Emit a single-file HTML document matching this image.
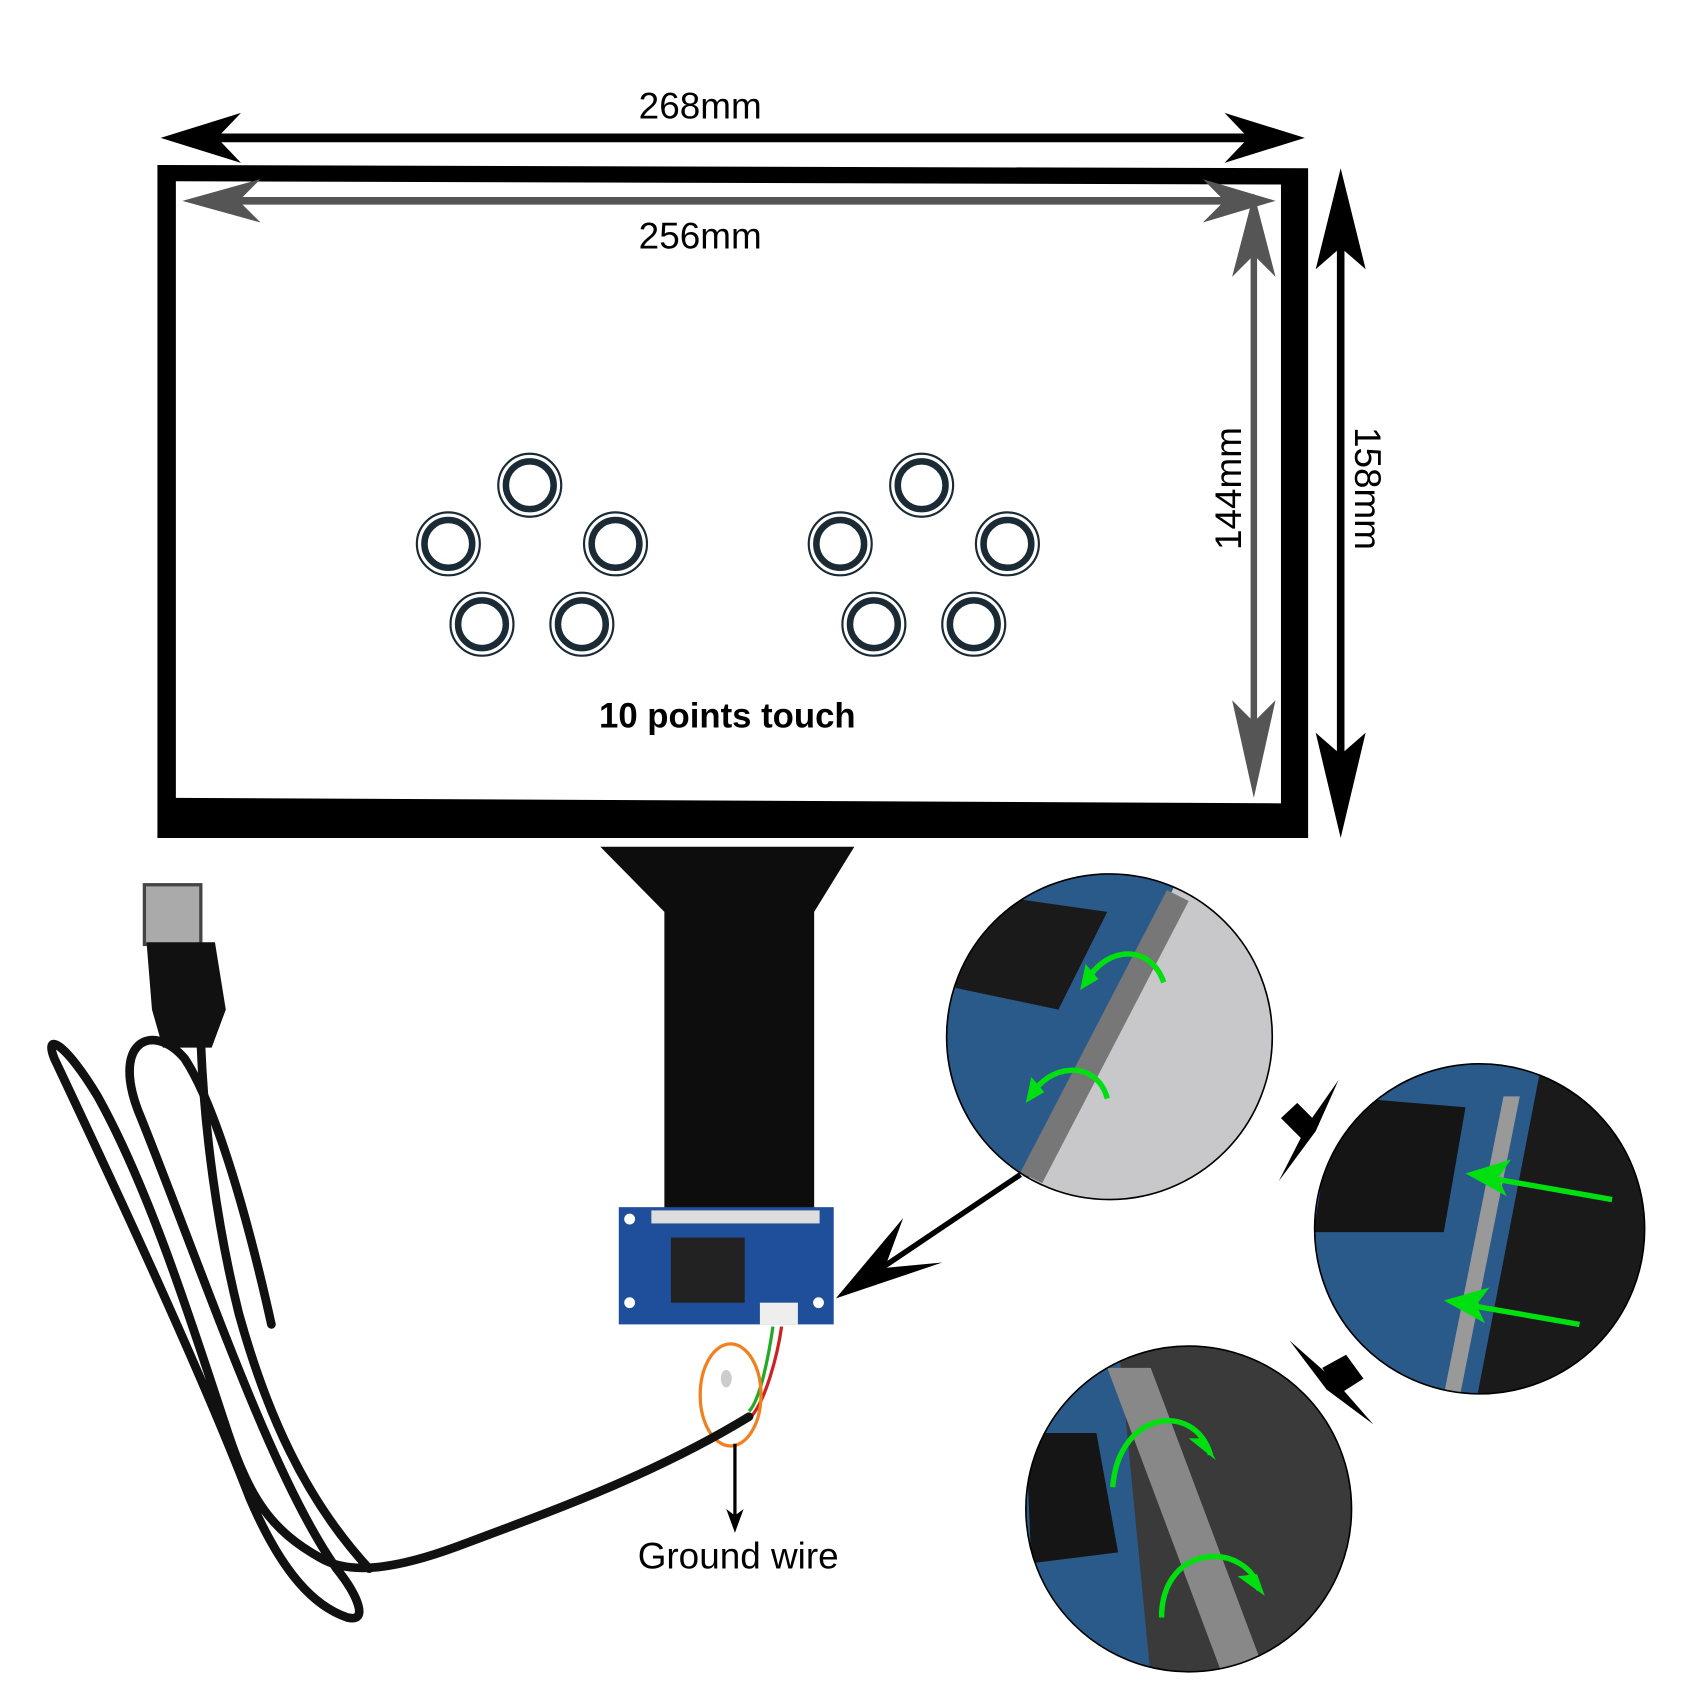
<!DOCTYPE html>
<html><head><meta charset="utf-8"><style>html,body{margin:0;padding:0;background:#fff}svg{display:block}</style></head>
<body>
<svg width="1700" height="1700" viewBox="0 0 1566 1566" xmlns="http://www.w3.org/2000/svg" font-family="'Liberation Sans','DejaVu Sans',sans-serif">
<defs>
<clipPath id="c1"><circle cx="1022" cy="955" r="150"/></clipPath>
<clipPath id="c2"><circle cx="1363" cy="1132" r="152"/></clipPath>
<clipPath id="c3"><circle cx="1095" cy="1390" r="150"/></clipPath>
</defs>
<line x1="165" y1="127" x2="1185" y2="127" stroke="#000" stroke-width="8"/>
<path d="M148,127 L222,104 L200,127 L222,150z" fill="#000"/>
<path d="M1202,127 L1128,104 L1150,127 L1128,150z" fill="#000"/>
<text x="645" y="109" font-size="34" text-anchor="middle">268mm</text>
<path d="M145,152 L1205,155 L1205,772 L145,772z M162,167 L162,735 L1180,740 L1180,170z" fill="#000" fill-rule="evenodd"/>
<line x1="185" y1="185" x2="1160" y2="185" stroke="#555" stroke-width="7"/>
<path d="M168,185 L240,165 L220,185 L240,205z" fill="#555"/>
<path d="M1175,185 L1108,165 L1128,185 L1108,205z" fill="#555"/>
<text x="645" y="229" font-size="34" text-anchor="middle">256mm</text>
<line x1="1155" y1="190" x2="1155" y2="715" stroke="#555" stroke-width="6"/>
<path d="M1155,178 L1135,255 L1155,235 L1175,255z" fill="#555"/>
<path d="M1155,735 L1135,645 L1155,665 L1175,645z" fill="#555"/>
<text transform="translate(1143,450) rotate(-90)" font-size="34" text-anchor="middle">144mm</text>
<line x1="1235" y1="175" x2="1235" y2="750" stroke="#000" stroke-width="7"/>
<path d="M1235,155 L1212,248 L1235,228 L1258,248z" fill="#000"/>
<path d="M1235,772 L1212,675 L1235,695 L1258,675z" fill="#000"/>
<text transform="translate(1248,450) rotate(90)" font-size="34" text-anchor="middle">158mm</text>
<g fill="none" stroke="#1a2b35">
<g id="cs">
<circle cx="488" cy="447" r="29" stroke-width="2"/><circle cx="488" cy="447" r="22" stroke-width="6"/>
<circle cx="413" cy="501" r="29" stroke-width="2"/><circle cx="413" cy="501" r="22" stroke-width="6"/>
<circle cx="567" cy="501" r="29" stroke-width="2"/><circle cx="567" cy="501" r="22" stroke-width="6"/>
<circle cx="444" cy="575" r="29" stroke-width="2"/><circle cx="444" cy="575" r="22" stroke-width="6"/>
<circle cx="536" cy="575" r="29" stroke-width="2"/><circle cx="536" cy="575" r="22" stroke-width="6"/>
</g>
<use href="#cs" x="361"/>
</g>
<text x="670" y="670" font-size="32" font-weight="bold" text-anchor="middle">10 points touch</text>
<path d="M553,780 L787,780 L750,840 L750,1118 L612,1118 L612,840z" fill="#0d0d0d"/>
<rect x="570" y="1112" width="198" height="108" fill="#1f4f9a"/>
<rect x="600" y="1115" width="155" height="12" fill="#ddd"/>
<rect x="618" y="1140" width="68" height="60" fill="#222"/>
<rect x="700" y="1200" width="35" height="20" fill="#eee"/>
<circle cx="580" cy="1123" r="5" fill="#fff"/><circle cx="580" cy="1200" r="5" fill="#fff"/><circle cx="754" cy="1200" r="5" fill="#fff"/>
<path d="M712,1222 C708,1250 700,1290 690,1300" stroke="#2a2" stroke-width="3" fill="none"/>
<path d="M720,1222 C716,1250 705,1290 692,1305" stroke="#c22" stroke-width="3" fill="none"/>
<ellipse cx="673" cy="1285" rx="28" ry="47" fill="none" stroke="#f08020" stroke-width="3"/>
<ellipse cx="669" cy="1270" rx="5" ry="8" fill="#ccc"/>
<line x1="677" y1="1330" x2="677" y2="1400" stroke="#000" stroke-width="3"/>
<path d="M677,1412 L669,1390 L677,1396 L685,1390z" fill="#000"/>
<text x="680" y="1445" font-size="34" text-anchor="middle">Ground wire</text>
<g fill="none" stroke="#111" stroke-width="8" stroke-linecap="round">
<path d="M690,1305 C600,1360 500,1395 420,1425 C360,1447 320,1450 295,1435 C250,1410 230,1380 210,1320 C180,1230 140,1100 90,1010 C60,960 40,950 50,975 C90,1060 180,1250 230,1380 C260,1450 290,1480 320,1490 C340,1495 330,1470 310,1445"/>
<path d="M310,1445 C250,1360 190,1180 130,1030 C100,960 140,940 170,975 C200,1020 230,1130 250,1220"/>
<path d="M185,960 C188,1040 200,1130 220,1210 C245,1300 280,1380 340,1445"/>
</g>
<rect x="133" y="815" width="52" height="55" fill="#aaa" stroke="#444" stroke-width="3"/>
<path d="M135,868 L198,868 L208,930 L195,965 L150,965 L140,930z" fill="#111"/>
<g clip-path="url(#c1)">
<rect x="870" y="800" width="310" height="310" fill="#c8c8ca"/>
<path d="M870,800 L1090,800 L940,1100 L870,1100z" fill="#2a5a8a"/>
<path d="M880,820 L1020,840 L975,930 L880,910z" fill="#1a1a1a"/>
<path d="M1075,820 L1095,830 L960,1090 L940,1080z" fill="#777"/>
<path d="M1000,905 C1020,870 1060,870 1072,905" stroke="#00e010" stroke-width="5" fill="none"/>
<path d="M995,912 L1000,888 L1012,902z" fill="#00e010"/>
<path d="M950,1010 C965,980 1010,975 1020,1012" stroke="#00e010" stroke-width="5" fill="none"/>
<path d="M945,1016 L950,992 L962,1006z" fill="#00e010"/>
</g>
<circle cx="1022" cy="955" r="150" fill="none" stroke="#000" stroke-width="1.5"/>
<g clip-path="url(#c2)">
<rect x="1210" y="980" width="310" height="310" fill="#1a1a1a"/>
<path d="M1210,980 L1420,980 L1360,1290 L1210,1290z" fill="#2a5a8a"/>
<path d="M1230,1010 L1350,1020 L1330,1135 L1210,1135z" fill="#151515"/>
<path d="M1385,1010 L1400,1010 L1345,1285 L1330,1285z" fill="#999"/>
<line x1="1485" y1="1105" x2="1360" y2="1083" stroke="#00e010" stroke-width="5"/>
<path d="M1350,1081 L1392,1068 L1380,1085 L1388,1102z" fill="#00e010"/>
<line x1="1455" y1="1220" x2="1340" y2="1200" stroke="#00e010" stroke-width="5"/>
<path d="M1330,1198 L1372,1186 L1360,1202 L1368,1219z" fill="#00e010"/>
</g>
<circle cx="1363" cy="1132" r="152" fill="none" stroke="#000" stroke-width="1.5"/>
<path d="M1233,995 L1205,1035 L1178,1088 L1212,1042z" fill="#000"/>
<path d="M1180,1030 L1195,1016 L1215,1036 L1200,1050z" fill="#000"/>
<path d="M1188,1235 L1230,1272 L1265,1312 L1222,1280z" fill="#000"/>
<path d="M1218,1260 L1240,1248 L1256,1270 L1234,1284z" fill="#000"/>
<g clip-path="url(#c3)">
<rect x="940" y="1235" width="310" height="310" fill="#3a3a3a"/>
<path d="M940,1235 L1030,1235 L1060,1545 L940,1545z" fill="#2a5a8a"/>
<path d="M945,1320 L1010,1320 L1030,1430 L950,1440z" fill="#151515"/>
<path d="M1020,1260 L1060,1260 L1165,1540 L1125,1540z" fill="#888"/>
<path d="M1025,1370 C1030,1300 1100,1290 1115,1340" stroke="#00e010" stroke-width="5" fill="none"/>
<path d="M1120,1345 L1095,1325 L1110,1325z" fill="#00e010"/>
<path d="M1070,1490 C1070,1420 1150,1420 1160,1465" stroke="#00e010" stroke-width="5" fill="none"/>
<path d="M1165,1470 L1140,1452 L1158,1450z" fill="#00e010"/>
</g>
<circle cx="1095" cy="1390" r="150" fill="none" stroke="#000" stroke-width="1.5"/>
<line x1="940" y1="1082" x2="790" y2="1183" stroke="#000" stroke-width="5"/>
<path d="M770,1196 L832,1122 L815,1168 L868,1163z" fill="#000"/>
</svg>
</body></html>
